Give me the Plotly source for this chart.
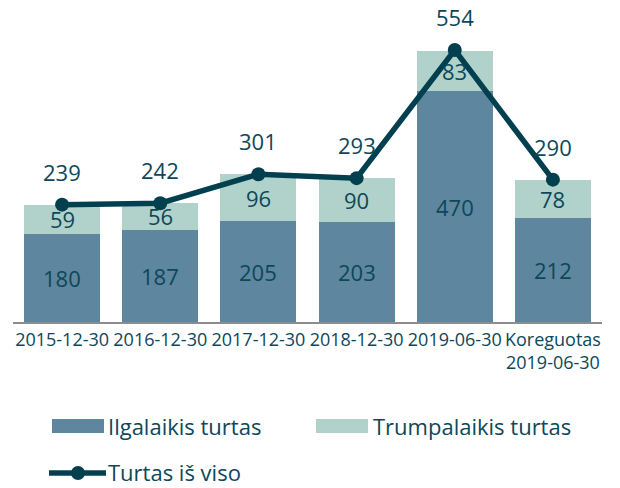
import plotly.graph_objects as go

categories = ["2015-12-30", "2016-12-30", "2017-12-30", "2018-12-30", "2019-06-30", "Koreguotas<br>2019-06-30"]
ilgalaikis = [180, 187, 205, 203, 470, 212]
trumpalaikis = [59, 56, 96, 90, 83, 78]
total = [239, 242, 301, 293, 554, 290]

DARK = "#5e869e"
LIGHT = "#b0d2cb"
LINE = "#03404f"
TXT = "#0d4759"
FONT = "Open Sans"

# page offset (browser body margin)
OFF = 8
W, H = 612, 480
ML, MR, MT, MB = 5, 18, 17, 166
PW, PH = W - ML - MR, H - MT - MB

def px(x):
    return (x - OFF - ML) / PW

def py(y):
    return (H - MB - (y - OFF)) / PH

fig = go.Figure()
fig.add_trace(go.Bar(x=categories, y=ilgalaikis, name="Ilgalaikis turtas",
                     marker=dict(color=DARK, line=dict(width=0)), showlegend=False))
fig.add_trace(go.Bar(x=categories, y=trumpalaikis, name="Trumpalaikis turtas",
                     marker=dict(color=LIGHT, line=dict(width=0)), showlegend=False))
fig.add_trace(go.Scatter(x=categories, y=total, name="Turtas iš viso", mode="lines+markers",
                         line=dict(color=LINE, width=5.5), marker=dict(color=LINE, size=14),
                         showlegend=False))

lab_font = dict(size=22, color=TXT, family=FONT)
ann = []
for c, a, b, t in zip(categories, ilgalaikis, trumpalaikis, total):
    ann.append(dict(x=c, y=a / 2, text=str(a), showarrow=False, font=lab_font))
    ann.append(dict(x=c, y=a + b / 2, text=str(b), showarrow=False, font=lab_font))
    ann.append(dict(x=c, y=t, yshift=33, text=str(t), showarrow=False, font=lab_font))

# custom legend
shapes = [
    dict(type="rect", xref="paper", yref="paper", x0=px(52), x1=px(104), y0=py(433), y1=py(419),
         fillcolor=DARK, line=dict(width=0)),
    dict(type="rect", xref="paper", yref="paper", x0=px(316), x1=px(368), y0=py(433), y1=py(419),
         fillcolor=LIGHT, line=dict(width=0)),
    dict(type="line", xref="paper", yref="paper", x0=px(49), x1=px(106), y0=py(473), y1=py(473),
         line=dict(color=LINE, width=5.5)),
    dict(type="circle", xref="paper", yref="paper", x0=px(71), x1=px(85), y0=py(480), y1=py(466),
         fillcolor=LINE, line=dict(width=0)),
]
leg_font = dict(size=22, color=TXT, family=FONT)
ann += [
    dict(xref="paper", yref="paper", x=px(106), y=py(426), text="Ilgalaikis turtas", showarrow=False,
         xanchor="left", yanchor="middle", font=leg_font),
    dict(xref="paper", yref="paper", x=px(371), y=py(426), text="Trumpalaikis turtas", showarrow=False,
         xanchor="left", yanchor="middle", font=leg_font),
    dict(xref="paper", yref="paper", x=px(106), y=py(472), text="Turtas iš viso", showarrow=False,
         xanchor="left", yanchor="middle", font=leg_font),
]

fig.update_layout(
    width=W, height=H, barmode="stack", bargap=0.226,
    margin=dict(l=ML, r=MR, t=MT, b=MB),
    plot_bgcolor="white", paper_bgcolor="white",
    font=dict(family=FONT, color=TXT),
    showlegend=False,
    annotations=ann, shapes=shapes,
    xaxis=dict(type="category", showline=True, linecolor="#8c8c8c", linewidth=2, ticks="",
               tickfont=dict(size=18, color=TXT, family=FONT), showgrid=False, automargin=False),
    yaxis=dict(range=[0, 605], visible=False, showgrid=False),
)
fig.write_html("out.html")
